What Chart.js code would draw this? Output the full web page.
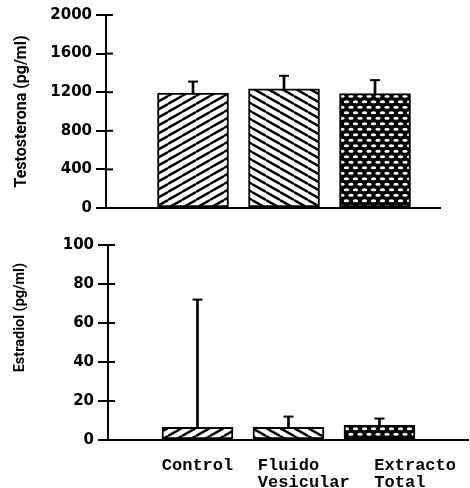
<!DOCTYPE html>
<html>
<head>
<meta charset="utf-8">
<script src="https://cdn.jsdelivr.net/npm/chart.js@4.4.1/dist/chart.umd.min.js"></script>
<style>
  html, body { margin: 0; padding: 0; background: #fff; }
  #wrap { position: relative; width: 470px; height: 488px; overflow: hidden; background: #fff; }
  canvas { position: absolute; left: 0; }
  #topChart { top: 0; }
  #bottomChart { top: 228px; }
</style>
</head>
<body>
<div id="wrap">
  <canvas id="topChart" width="470" height="225"></canvas>
  <canvas id="bottomChart" width="470" height="260"></canvas>
</div>
<script>
// Groups (multi-line category labels)
const categories = [['Control'], ['Fluido', 'Vesicular'], ['Extracto', 'Total']];

// Testosterona, pg/ml: mean and upper error
const testosterona = [1190, 1235, 1185];
const testosteronaErr = [120, 135, 140];

// Estradiol, pg/ml: mean and upper error
const estradiol = [6.5, 6.5, 7.5];
const estradiolErr = [65.5, 5.5, 3.5];

// Axis tick values
const testosteronaTicks = [0, 400, 800, 1200, 1600, 2000];
const estradiolTicks = [0, 20, 40, 60, 80, 100];

// ---------- styling helpers ----------
const INK = '#000';
Chart.defaults.color = INK;
Chart.defaults.animation = false;

// Typewriter-style label block: lines padded to one width, then indented
const labelIndent = [0, 3, 7];
function typedLabel(lines, indent) {
  const w = Math.max(...lines.map(l => l.length));
  return lines.map(l => ' '.repeat(indent) + l.padEnd(w, ' '));
}
const labelLines = categories.map((c, i) => typedLabel(c, labelIndent[i]));

function hatchPattern(ctx, dir) {
  const w = 14, h = 8;
  const c = document.createElement('canvas');
  c.width = w; c.height = h;
  const g = c.getContext('2d');
  g.fillStyle = '#fff';
  g.fillRect(0, 0, w, h);
  g.strokeStyle = INK;
  g.lineWidth = 2.4;
  for (const dy of [-h, 0, h]) {
    g.beginPath();
    if (dir > 0) { g.moveTo(0, h + dy); g.lineTo(w, dy); }
    else { g.moveTo(0, dy); g.lineTo(w, h + dy); }
    g.stroke();
  }
  return ctx.createPattern(c, 'repeat');
}

function meshPattern(ctx) {
  const w = 9, h = 11;
  const c = document.createElement('canvas');
  c.width = w; c.height = h;
  const g = c.getContext('2d');
  g.fillStyle = INK;
  g.fillRect(0, 0, w, h);
  g.fillStyle = '#fff';
  const dots = [[4.5, 2.75], [0, 8.25], [9, 8.25]];
  for (const [x, y] of dots) {
    g.beginPath();
    g.ellipse(x, y, 2.7, 1.6, 0, 0, Math.PI * 2);
    g.fill();
  }
  return ctx.createPattern(c, 'repeat');
}

// short tick stubs on the inner side of the value axis
const axisStubs = {
  id: 'axisStubs',
  afterDraw(chart) {
    const y = chart.scales.y, ctx = chart.ctx;
    ctx.save();
    ctx.strokeStyle = INK;
    ctx.lineWidth = 2;
    y.ticks.forEach((t, i) => {
      const py = y.getPixelForTick(i);
      ctx.beginPath();
      ctx.moveTo(y.right, py);
      ctx.lineTo(y.right + 7, py);
      ctx.stroke();
    });
    ctx.restore();
  }
};

function buildChart(canvas, cfg) {
  const ctx = canvas.getContext('2d');
  const fills = [hatchPattern(ctx, 1), hatchPattern(ctx, -1), meshPattern(ctx)];
  const xs = categories.map((_, i) => i + 1);

  return new Chart(ctx, {
    type: 'bar',
    data: {
      datasets: [
        {
          label: cfg.name,
          data: xs.map((x, i) => ({ x, y: cfg.values[i] })),
          backgroundColor: fills,
          borderColor: INK,
          borderWidth: 2,
          borderSkipped: false,
          barThickness: 71
        },
        {
          label: cfg.name + ' error',
          data: xs.map((x, i) => ({ x, y: [cfg.values[i], cfg.values[i] + cfg.errors[i]] })),
          backgroundColor: INK,
          borderWidth: 0,
          barThickness: 2
        },
        {
          type: 'scatter',
          label: cfg.name + ' cap',
          data: xs.map((x, i) => ({ x, y: cfg.values[i] + cfg.errors[i] })),
          pointStyle: 'line',
          pointRadius: 5,
          pointBorderWidth: 2,
          pointBorderColor: INK,
          pointBackgroundColor: INK
        }
      ]
    },
    options: {
      responsive: false,
      animation: false,
      events: [],
      layout: { padding: cfg.padding, autoPadding: false },
      plugins: { legend: { display: false }, tooltip: { enabled: false } },
      scales: {
        x: {
          type: 'linear',
          min: cfg.xMin,
          max: cfg.xMax,
          offset: false,
          stacked: true,
          grid: { display: false },
          border: { display: true, color: INK, width: 2 },
          afterBuildTicks: s => { s.ticks = xs.map(v => ({ value: v })); },
          afterFit: s => { s.height = cfg.xHeight; s.paddingLeft = 0; s.paddingRight = 0; },
          ticks: {
            display: cfg.showLabels,
            autoSkip: false,
            maxRotation: 0,
            minRotation: 0,
            padding: 9,
            color: INK,
            font: { family: '"Liberation Mono", "DejaVu Sans Mono", monospace', size: 17, weight: 'bold', lineHeight: 1 },
            callback: v => labelLines[v - 1]
          }
        },
        y: {
          min: cfg.ticks[0],
          max: cfg.ticks[cfg.ticks.length - 1],
          stacked: false,
          afterBuildTicks: s => { s.ticks = cfg.ticks.map(v => ({ value: v })); },
          afterFit: s => { s.width = cfg.yWidth; },
          grid: { drawOnChartArea: false, drawTicks: true, tickLength: 10, color: INK, lineWidth: 2 },
          border: { display: true, color: INK, width: 2 },
          ticks: {
            padding: 4,
            color: INK,
            font: { family: '"DejaVu Sans", sans-serif', size: 15, weight: 'bold' },
            callback: v => String(v)
          },
          title: {
            display: true,
            text: cfg.title,
            align: cfg.titleAlign,
            color: INK,
            padding: { top: 12, bottom: 0 },
            font: { family: 'Roboto, "DejaVu Sans", sans-serif', size: cfg.titleSize, weight: 'bold', lineHeight: 1.2 }
          }
        }
      }
    },
    plugins: [axisStubs]
  });
}

buildChart(document.getElementById('topChart'), {
  name: 'Testosterona',
  values: testosterona,
  errors: testosteronaErr,
  ticks: testosteronaTicks,
  title: 'Testosterona (pg/ml)',
  titleAlign: 'center',
  titleSize: 16,
  showLabels: false,
  xMin: 0.044, xMax: 3.714,
  xHeight: 0, yWidth: 106,
  padding: { left: 0, right: 30, top: 15, bottom: 17 }
});

buildChart(document.getElementById('bottomChart'), {
  name: 'Estradiol',
  values: estradiol,
  errors: estradiolErr,
  ticks: estradiolTicks,
  title: 'Estradiol (pg/ml)     ',
  titleAlign: 'end',
  titleSize: 14.5,
  showLabels: true,
  xMin: 0.0165, xMax: 3.973,
  xHeight: 48, yWidth: 108,
  padding: { left: 0, right: 2, top: 17, bottom: 0 }
});
</script>
</body>
</html>
